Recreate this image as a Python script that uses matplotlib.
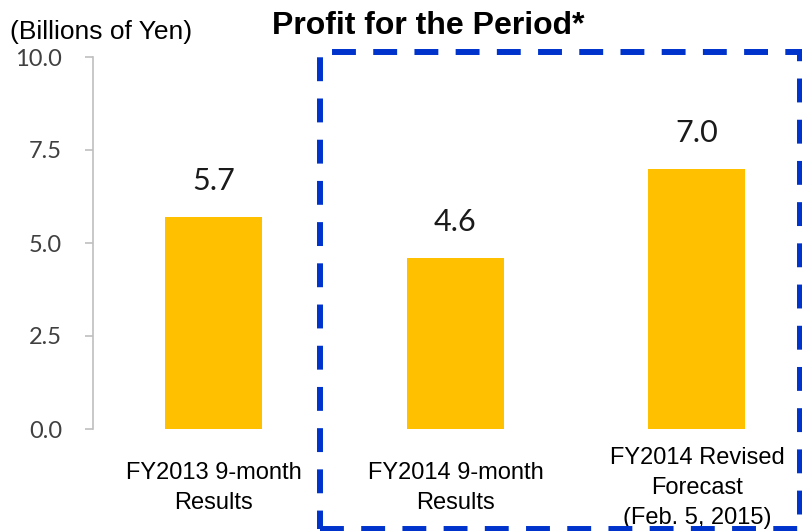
import matplotlib
matplotlib.use("Agg")
import matplotlib.pyplot as plt
from matplotlib.patches import Rectangle

# data
categories = ["FY2013 9-month\nResults",
              "FY2014 9-month\nResults",
              "FY2014 Revised\nForecast\n(Feb. 5, 2015)"]
profit = [5.7, 4.6, 7.0]
yticks = [0.0, 2.5, 5.0, 7.5, 10.0]

fig = plt.figure(figsize=(8.03, 5.31), dpi=100, facecolor="white")
W, H = 803, 531

# axes placed in pixel terms: x spine at 93px, y=0 at 429px, y=10 at 57px
ax = fig.add_axes([93 / W, (H - 429) / H, 724.5 / W, 372 / H])
ax.patch.set_alpha(0)

x = range(len(profit))
ax.bar(x, profit, width=0.40, color="#FFC000", zorder=2)
for xi, v in zip(x, profit):
    ax.text(xi, v + 0.58, f"{v:.1f}", ha="center", va="bottom",
            fontsize=22, family="Lato", color="#1a1a1a")

ax.set_xlim(-0.5, 2.5)
ax.set_ylim(0, 10)
ax.set_yticks(yticks)
ax.set_yticklabels([f"{t:.1f}" for t in yticks], family="Lato",
                   fontsize=17, color="#404040")
ax.tick_params(axis="y", direction="out", length=5.8, width=1.2,
               color="#BFBFBF", pad=16.5)
ax.set_xticks([])
for s in ["top", "right", "bottom"]:
    ax.spines[s].set_visible(False)
ax.spines["left"].set_color("#BFBFBF")
ax.spines["left"].set_linewidth(1.2)

# category labels under the bars
for xi, lab in zip(x, categories):
    fig.text((214 + 241.5 * xi) / W, (H - 488) / H, lab, ha="center",
             va="center", fontsize=17, family="Liberation Sans",
             color="black", linespacing=1.45)

# titles
fig.text(428.5 / W, (H - 26) / H, "Profit for the Period*", ha="center",
         va="center", fontsize=23, fontweight="bold", family="Liberation Sans")
fig.text(10 / W, (H - 32) / H, "(Billions of Yen)", ha="left", va="center",
         fontsize=19, family="Liberation Sans")

# dashed blue box around FY2014 bars
box = Rectangle((320 / W, (H - 529) / H), 480 / W, 477 / H,
                transform=fig.transFigure, fill=False, edgecolor="#0033CC",
                linewidth=4.3, linestyle=(0, (4, 2.9)), zorder=5)
fig.patches.append(box)

fig.savefig("out.png", dpi=100)
